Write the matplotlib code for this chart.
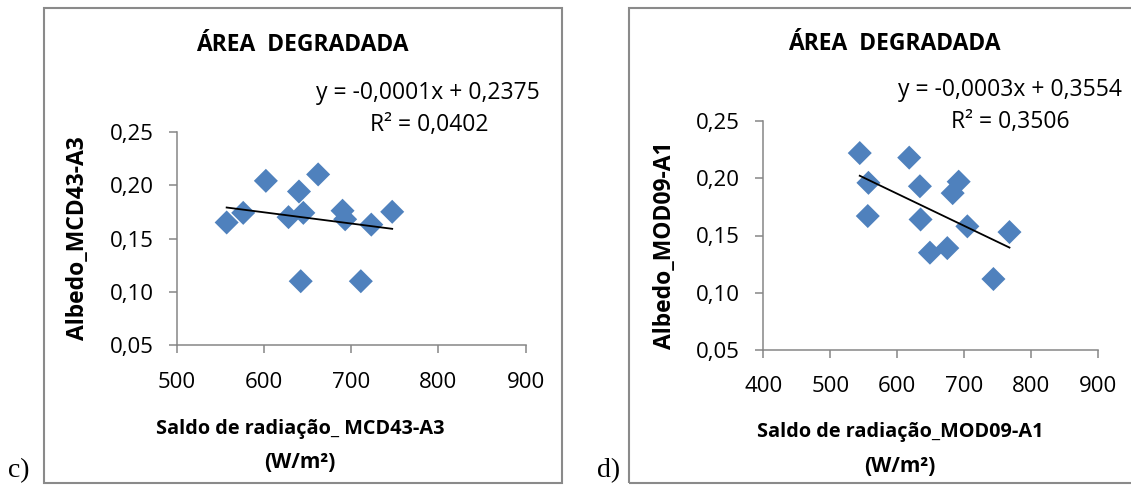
import matplotlib
matplotlib.use("Agg")
import matplotlib.pyplot as plt
from matplotlib.patches import Rectangle

# ---------------- data ----------------
# Panel c) MCD43-A3
c_saldo = [557, 576, 602, 628, 640, 645, 662, 690, 693, 723, 747, 642, 711]
c_albedo = [0.165, 0.174, 0.204, 0.170, 0.194, 0.174, 0.210, 0.176, 0.168, 0.163, 0.175, 0.110, 0.110]
c_trend = [-0.000105, 0.2375]          # slope, intercept (as drawn)
c_eq = ["y = -0,0001x + 0,2375", "R² = 0,0402"]

# Panel d) MOD09-A1
d_saldo = [544, 618, 557, 634, 692, 683, 556, 635, 705, 768, 649, 675, 744]
d_albedo = [0.222, 0.218, 0.196, 0.193, 0.197, 0.187, 0.167, 0.164, 0.158, 0.153, 0.135, 0.139, 0.112]
d_trend = [-0.00028, 0.3545]
d_eq = ["y = -0,0003x + 0,3554", "R² = 0,3506"]

title = "ÁREA  DEGRADADA"
c_ylabel = "Albedo_MCD43-A3"
d_ylabel = "Albedo_MOD09-A1"
c_xlabel = ["Saldo de radiação_ MCD43-A3", "(W/m²)"]
d_xlabel = ["Saldo de radiação_MOD09-A1", "(W/m²)"]
y_ticks = [0.05, 0.10, 0.15, 0.20, 0.25]
c_xticks = [500, 600, 700, 800, 900]
d_xticks = [400, 500, 600, 700, 800, 900]
panel_tags = ["c)", "d)"]

# ---------------- figure ----------------
W, H = 1131, 488
fig = plt.figure(figsize=(W / 100, H / 100), dpi=100)
FONT = "Open Sans"
GRAY = "#868686"
BLUE = "#4F81BD"


def fx(x):
    return x / W


def fy(y):
    return 1 - y / H


def make_axes(l, r, t, b):
    return fig.add_axes([fx(l), fy(b), fx(r) - fx(l), fy(t) - fy(b)])


def style(ax, xt, xl):
    for s in ["top", "right"]:
        ax.spines[s].set_visible(False)
    for s in ["left", "bottom"]:
        ax.spines[s].set_color(GRAY)
        ax.spines[s].set_linewidth(1.1)
    ax.set_xticks(xt)
    ax.set_xlim(xl)
    ax.set_yticks(y_ticks)
    ax.set_ylim(0.05, 0.25)
    ax.set_yticklabels([f"{v:.2f}".replace(".", ",") for v in y_ticks])
    ax.set_xticklabels([str(v) for v in xt])
    ax.tick_params(axis="both", direction="out", length=6, width=1.1, color=GRAY,
                   labelsize=16, labelcolor="black")
    ax.tick_params(axis="y", pad=11)
    ax.tick_params(axis="x", pad=13)
    for lab in ax.get_xticklabels() + ax.get_yticklabels():
        lab.set_family(FONT)
    ax.patch.set_alpha(0)


def panel(ax, xs, ys, trend):
    ax.scatter(xs, ys, marker="D", s=150, color=BLUE, edgecolors="none", zorder=3,
               clip_on=False)
    x0, x1 = min(xs), max(xs)
    ax.plot([x0, x1], [trend[0] * x0 + trend[1], trend[0] * x1 + trend[1]],
            color="black", lw=1.3, zorder=4)


# frames
fig.patches.append(Rectangle((fx(43.5), fy(482.5)), fx(561.5) - fx(43.5), fy(7.5) - fy(482.5),
                             transform=fig.transFigure, fill=False, edgecolor="#8a8a8a", lw=1.5))
fig.patches.append(Rectangle((fx(628.5), fy(482.5)), fx(1140) - fx(628.5), fy(7.5) - fy(482.5),
                             transform=fig.transFigure, fill=False, edgecolor="#8a8a8a", lw=1.5))

# panel c
ax1 = make_axes(177, 525.5, 131.7, 345.3)
style(ax1, c_xticks, (500, 900))
panel(ax1, c_saldo, c_albedo, c_trend)

# panel d
ax2 = make_axes(763.5, 1097.7, 121, 350)
style(ax2, d_xticks, (400, 900))
panel(ax2, d_saldo, d_albedo, d_trend)

# titles
fig.text(fx(302), fy(45), title, ha="center", va="center", fontsize=16.5, fontweight="bold", family=FONT)
fig.text(fx(894), fy(44), title, ha="center", va="center", fontsize=16.5, fontweight="bold", family=FONT)

# equations
fig.text(fx(428), fy(93), c_eq[0], ha="center", va="center", fontsize=16.5, family=FONT)
fig.text(fx(429), fy(125), c_eq[1], ha="center", va="center", fontsize=16.5, family=FONT)
fig.text(fx(1010), fy(90), d_eq[0], ha="center", va="center", fontsize=16.5, family=FONT)
fig.text(fx(1010), fy(122), d_eq[1], ha="center", va="center", fontsize=16.5, family=FONT)

# y labels
fig.text(fx(78), fy(238), c_ylabel, rotation=90, ha="center", va="center", fontsize=16.5,
         fontweight="bold", family=FONT)
fig.text(fx(665), fy(245), d_ylabel, rotation=90, ha="center", va="center", fontsize=16.5,
         fontweight="bold", family=FONT)

# x labels
fig.text(fx(300), fy(429), c_xlabel[0], ha="center", va="center", fontsize=14.3, fontweight="bold", family=FONT)
fig.text(fx(300), fy(463), c_xlabel[1], ha="center", va="center", fontsize=15, fontweight="bold", family=FONT)
fig.text(fx(900), fy(432), d_xlabel[0], ha="center", va="center", fontsize=14.3, fontweight="bold", family=FONT)
fig.text(fx(900), fy(466), d_xlabel[1], ha="center", va="center", fontsize=15, fontweight="bold", family=FONT)

# panel tags
fig.text(fx(8), fy(477), panel_tags[0], ha="left", va="baseline", fontsize=20, family="Liberation Serif")
fig.text(fx(597), fy(477), panel_tags[1], ha="left", va="baseline", fontsize=20, family="Liberation Serif")

fig.savefig("out.png", dpi=100)
